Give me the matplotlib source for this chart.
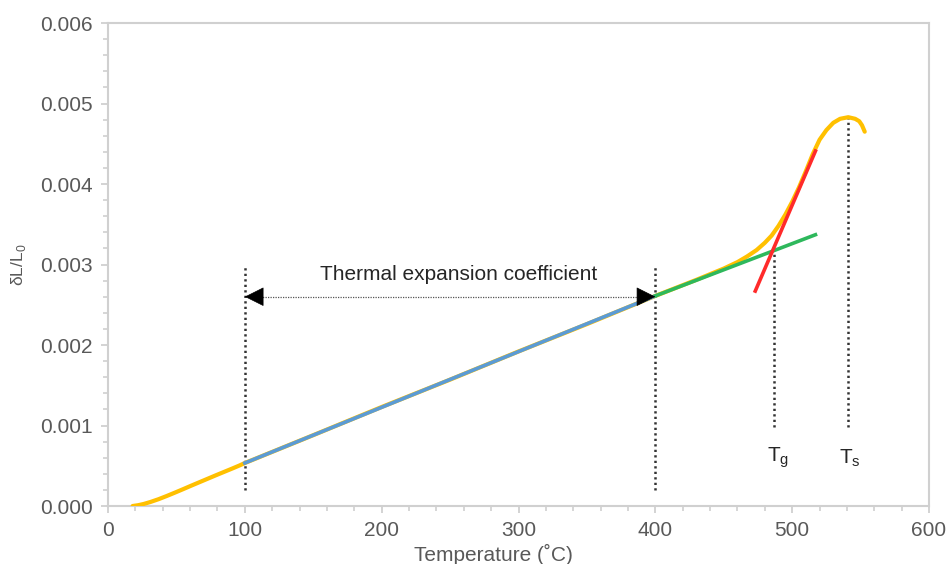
import matplotlib
matplotlib.use("Agg")
import matplotlib.pyplot as plt
from matplotlib.ticker import MultipleLocator, FormatStrFormatter

plt.rcParams['font.family'] = ['Liberation Sans', 'DejaVu Sans']

# Measured dilatometer curve: temperature (°C) vs relative elongation
temp = [18, 22, 26, 31, 37, 43, 49, 55, 61, 67, 73, 80, 86, 91, 96, 100,
        150, 200, 250, 300, 350, 400, 418, 430, 440, 450, 460, 467, 474, 480,
        485, 490, 495, 500, 505, 510, 515, 520, 525, 530, 535, 541, 546, 549,
        551, 553]
strain = [0.0, 0.00001, 0.000025, 0.00005, 0.000085, 0.000125, 0.000167, 0.00021,
          0.000254, 0.000297, 0.00034, 0.00039, 0.000432, 0.000467, 0.000503, 0.000534,
          0.00088, 0.00123, 0.00157, 0.00192, 0.00226, 0.00261, 0.00273, 0.00281,
          0.00288, 0.00295, 0.00303, 0.0031, 0.00318, 0.00327,
          0.00336, 0.00348, 0.00362, 0.00378, 0.00396, 0.00416, 0.00437, 0.00455,
          0.00467, 0.00476, 0.00481, 0.00483, 0.00481, 0.00478, 0.00473, 0.00465]

# Linear fit used for the thermal expansion coefficient (100-400 °C)
fit_temp = [100, 400]
fit_strain = [0.000534, 0.00261]

# Tangent lines used to locate the glass transition
glass_temp = [400, 517]
glass_strain = [0.00261, 0.00337]
rubber_temp = [473, 517]
rubber_strain = [0.00267, 0.00441]

# Characteristic temperatures
Tg = 487
Ts = 541
Tg_strain = 0.00316
Ts_strain = 0.00483

fig = plt.figure(figsize=(9.48, 5.64), dpi=100)
ax = fig.add_axes([0.1139, 0.1028, 0.98 - 0.1139, 0.9592 - 0.1028])

ax.plot(temp, strain, color='#FFC000', lw=3.0, solid_capstyle='round',
        solid_joinstyle='round', zorder=3)
ax.plot(fit_temp, fit_strain, color='#5B9BD5', lw=2.6, zorder=4)
ax.plot(glass_temp, glass_strain, color='#2EB85C', lw=2.6, zorder=4)
ax.plot(rubber_temp, rubber_strain, color='#FF2A2A', lw=2.6, zorder=5)

dot = dict(color='#333333', lw=1.8, linestyle=(0, (0.9, 1.3)), zorder=2)
ax.plot([100, 100], [0.0002, 0.003], **dot)
ax.plot([400, 400], [0.0002, 0.003], **dot)
ax.plot([Tg, Tg], [0.00098, Tg_strain], **dot)
ax.plot([Ts, Ts], [0.00098, Ts_strain], **dot)

# Double arrow spanning the fitting range
ax.plot([104, 396], [0.0026, 0.0026], color='#555555', lw=0.9,
        linestyle=(0, (1, 1)), zorder=2)
for x_tip, x_tail in [(100, 112), (400, 388)]:
    ax.annotate('', xy=(x_tip, 0.0026), xytext=(x_tail, 0.0026),
                arrowprops=dict(arrowstyle='-|>,head_length=0.9,head_width=0.45',
                                color='black', lw=0.5, shrinkA=0, shrinkB=0,
                                mutation_scale=14), zorder=6)

ax.text(256, 0.00287, 'Thermal expansion coefficient', fontsize=15,
        color='#262626', ha='center', va='center')
ax.text(490, 0.0006, r'T$_\mathregular{g}$', fontsize=15, color='#262626',
        ha='center', va='center')
ax.text(542, 0.0006, r'T$_\mathregular{s}$', fontsize=15, color='#262626',
        ha='center', va='center')

ax.set_xlim(0, 600)
ax.set_ylim(0, 0.006)
ax.xaxis.set_major_locator(MultipleLocator(100))
ax.xaxis.set_minor_locator(MultipleLocator(20))
ax.yaxis.set_major_locator(MultipleLocator(0.001))
ax.yaxis.set_minor_locator(MultipleLocator(0.0002))
ax.yaxis.set_major_formatter(FormatStrFormatter('%.3f'))

spine_color = '#D0D0D0'
for s in ax.spines.values():
    s.set_color(spine_color)
    s.set_linewidth(1.5)
ax.tick_params(which='major', direction='out', length=5, width=1.3,
               color=spine_color, labelsize=15, labelcolor='#595959', pad=6)
ax.tick_params(which='minor', direction='out', length=3.5, width=1.2,
               color=spine_color)

ax.set_xlabel('Temperature (˚C)', fontsize=15, color='#595959', labelpad=0)
ax.xaxis.set_label_coords(0.47, -0.078, transform=ax.transAxes)
ax.xaxis.label.set_va('top')
ax.set_ylabel(r'δL/L$_\mathregular{0}$', fontsize=12.5, color='#595959')
ax.yaxis.set_label_coords(-0.097, 0.5)

fig.savefig('out.png', dpi=100)
